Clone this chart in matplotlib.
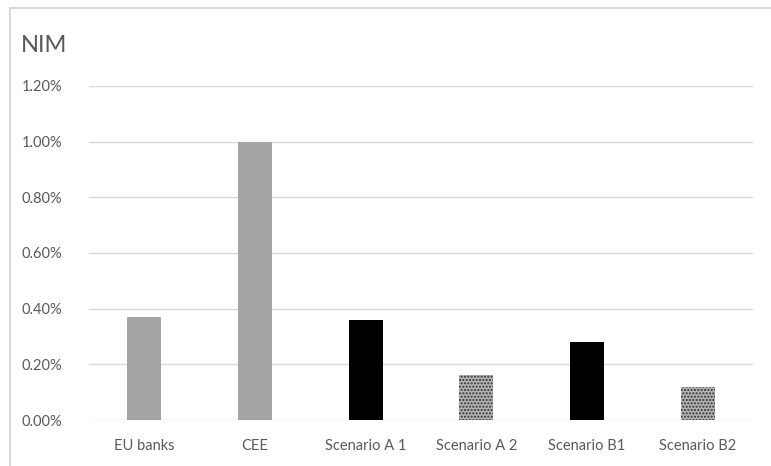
import matplotlib
matplotlib.use("Agg")
import matplotlib.pyplot as plt
from matplotlib.patches import Rectangle
from matplotlib.ticker import FuncFormatter

categories = ["EU banks", "CEE", "Scenario A 1", "Scenario A 2", "Scenario B1", "Scenario B2"]
nim = [0.37, 1.00, 0.36, 0.16, 0.28, 0.12]
bar_style = ["grey", "grey", "black", "texture", "black", "texture"]
y_ticks = [0.0, 0.2, 0.4, 0.6, 0.8, 1.0, 1.2]

plt.rcParams['font.family'] = ['Lato', 'DejaVu Sans']
plt.rcParams['hatch.linewidth'] = 1.0
plt.rcParams['hatch.color'] = '#303030'
text_col = '#595959'

W, H = 771, 466
fig = plt.figure(figsize=(W / 100, H / 100), dpi=100)

# outer chart border (only top and left visible)
fig.patches.append(Rectangle((10 / W, -0.1), 1.2, (H - 8) / H + 0.1, transform=fig.transFigure,
                             fill=False, edgecolor='#d9d9d9', linewidth=1.5))

ax = fig.add_axes([89 / W, (H - 420) / H, 664 / W, (420 - 86) / H])

for i, (v, s) in enumerate(zip(nim, bar_style)):
    if s == "grey":
        ax.bar(i, v, width=0.31, color='#a5a5a5', zorder=3)
    elif s == "black":
        ax.bar(i, v, width=0.31, color='#000000', zorder=3)
    else:
        # speckled fill
        ax.bar(i, v, width=0.31, facecolor='#b4b4b4', edgecolor='#303030',
               linewidth=0, hatch='.....', zorder=3)

ax.set_xlim(-0.5, len(categories) - 0.5)
ax.set_ylim(0, 1.2)
ax.set_yticks(y_ticks)
ax.yaxis.set_major_formatter(FuncFormatter(lambda v, p: f"{v:.2f}%"))
ax.set_xticks(range(len(categories)))
ax.set_xticklabels(categories)

ax.grid(axis='y', color='#d9d9d9', linewidth=1, zorder=0)
for sp in ax.spines.values():
    sp.set_visible(False)
ax.tick_params(length=0, labelsize=10.5, labelcolor=text_col)
ax.tick_params(axis='x', pad=14)
for lbl in ax.get_yticklabels():
    lbl.set_horizontalalignment('left')
ax.tick_params(axis='y', pad=(89 - 22) * 72 / 100)

fig.text(21 / W, 1 - 45 / H, "NIM", fontsize=17, color=text_col, va='center', ha='left')

fig.savefig("out.png", dpi=100)
